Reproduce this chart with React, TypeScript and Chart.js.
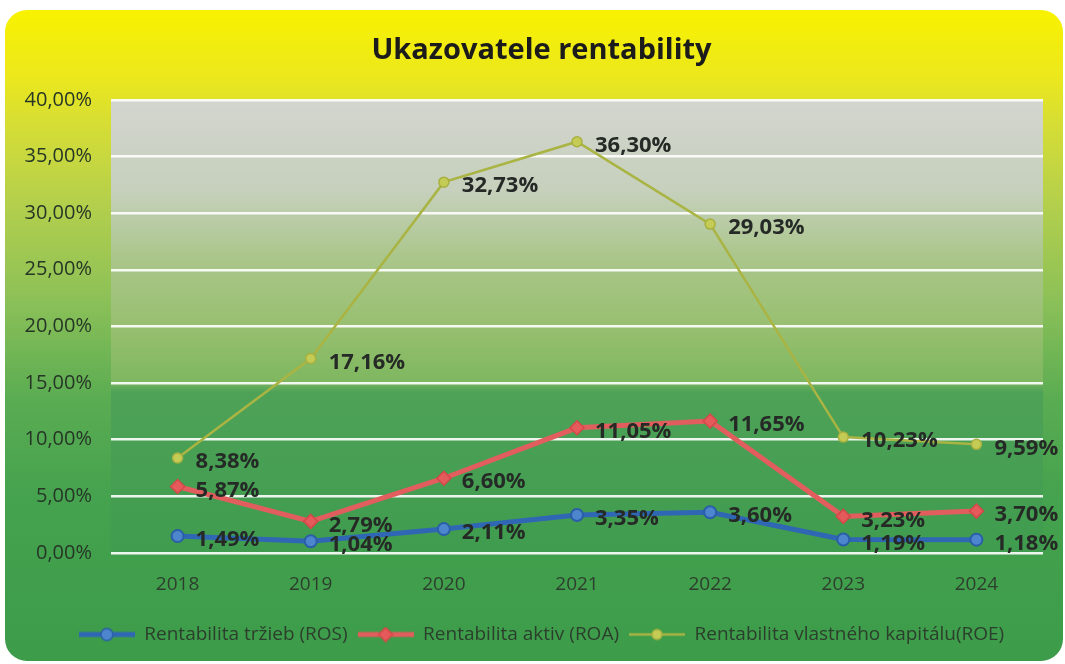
import React, { useEffect, useRef } from 'react';
import { Chart, registerables } from 'chart.js';

Chart.register(...registerables);

const chartTitle = 'Ukazovatele rentability';
const categories = ['2018', '2019', '2020', '2021', '2022', '2023', '2024'];
const rosValues = [1.49, 1.04, 2.11, 3.35, 3.6, 1.19, 1.18];
const roaValues = [5.87, 2.79, 6.6, 11.05, 11.65, 3.23, 3.7];
const roeValues = [8.38, 17.16, 32.73, 36.3, 29.03, 10.23, 9.59];
const seriesNames = [
  'Rentabilita tržieb (ROS)',
  'Rentabilita aktiv (ROA)',
  'Rentabilita vlastného kapitálu(ROE)',
];
const yMin = 0;
const yMax = 40;
const yStep = 5;

const fmt = (v: number) => v.toFixed(2).replace('.', ',') + '%';

function legendIcon(line: string, lw: number, fill: string, stroke: string, style: string, r: number) {
  const c = document.createElement('canvas');
  c.width = 56;
  c.height = 16;
  const x = c.getContext('2d')!;
  x.strokeStyle = line;
  x.lineWidth = lw;
  x.beginPath();
  x.moveTo(0, 8);
  x.lineTo(56, 8);
  x.stroke();
  x.fillStyle = fill;
  x.strokeStyle = stroke;
  x.lineWidth = 1.5;
  x.beginPath();
  if (style === 'rectRot') {
    x.moveTo(28, 8 - r);
    x.lineTo(28 + r, 8);
    x.lineTo(28, 8 + r);
    x.lineTo(28 - r, 8);
    x.closePath();
  } else {
    x.arc(28, 8, r, 0, Math.PI * 2);
  }
  x.fill();
  x.stroke();
  return c;
}

const bgPlugin = {
  id: 'bgPlugin',
  beforeDraw(chart: any) {
    const { ctx, width, height, chartArea } = chart;
    ctx.save();
    ctx.fillStyle = '#ffffff';
    ctx.fillRect(0, 0, width, height);
    const g = ctx.createLinearGradient(0, 10, 0, 660);
    g.addColorStop(0, '#f8f200');
    g.addColorStop(0.1, '#ece81c');
    g.addColorStop(0.18, '#d5dd36');
    g.addColorStop(0.3, '#b3cf4c');
    g.addColorStop(0.45, '#8bc058');
    g.addColorStop(0.6, '#5aac52');
    g.addColorStop(0.75, '#45a24e');
    g.addColorStop(1, '#3c9c4a');
    ctx.fillStyle = g;
    ctx.beginPath();
    ctx.roundRect(5, 10, 1058, 651, 22);
    ctx.fill();
    const { left, top, right, bottom } = chartArea;
    const pg = ctx.createLinearGradient(0, top, 0, bottom);
    pg.addColorStop(0, '#d3d5cf');
    pg.addColorStop(0.2, '#c6d0bc');
    pg.addColorStop(0.35, '#aac68a');
    pg.addColorStop(0.5, '#98c070');
    pg.addColorStop(0.62, '#7fb760');
    pg.addColorStop(0.645, '#4ea258');
    pg.addColorStop(1, '#3f9c4e');
    ctx.fillStyle = pg;
    ctx.fillRect(left, top, right - left, bottom - top);
    ctx.restore();
  },
};

// centre title and legend on the card rather than on the padded layout box
const centerShiftPlugin = {
  id: 'centerShiftPlugin',
  afterLayout(chart: any) {
    const shift = 13;
    [chart.titleBlock, chart.legend].forEach((b: any) => {
      if (b) {
        b.left += shift;
        b.right += shift;
      }
    });
  },
};

const labelPlugin = {
  id: 'labelPlugin',
  afterDatasetsDraw(chart: any) {
    const { ctx } = chart;
    ctx.save();
    ctx.font = 'bold 22px "Open Sans"';
    ctx.fillStyle = '#262a26';
    ctx.textAlign = 'left';
    ctx.textBaseline = 'middle';
    chart.data.datasets.forEach((ds: any, i: number) => {
      const meta = chart.getDatasetMeta(i);
      meta.data.forEach((pt: any, j: number) => {
        ctx.fillText(fmt(ds.data[j]), pt.x + 18, pt.y + 4);
      });
    });
    ctx.restore();
  },
};

export default function App() {
  const ref = useRef<HTMLCanvasElement>(null);
  useEffect(() => {
    const icons = [
      legendIcon('#2f67b5', 5, '#4d86cc', '#2a5ea8', 'circle', 6),
      legendIcon('#e25d5d', 5, '#e55a5a', '#d44848', 'rectRot', 7),
      legendIcon('#a9b443', 2.5, '#c5cc55', '#a8b040', 'circle', 5),
    ];
    const chart = new Chart(ref.current!, {
      type: 'line',
      data: {
        labels: categories,
        datasets: [
          {
            label: seriesNames[0],
            data: rosValues,
            borderColor: '#2f67b5',
            borderWidth: 5,
            pointStyle: 'circle',
            pointRadius: 6,
            pointBackgroundColor: '#4d86cc',
            pointBorderColor: '#2a5ea8',
            pointBorderWidth: 2,
            tension: 0,
          },
          {
            label: seriesNames[1],
            data: roaValues,
            borderColor: '#e25d5d',
            borderWidth: 5,
            pointStyle: 'rectRot',
            pointRadius: 7,
            pointBackgroundColor: '#e55a5a',
            pointBorderColor: '#d44848',
            pointBorderWidth: 1.5,
            tension: 0,
          },
          {
            label: seriesNames[2],
            data: roeValues,
            borderColor: '#a9b443',
            borderWidth: 2.5,
            pointStyle: 'circle',
            pointRadius: 5,
            pointBackgroundColor: '#c5cc55',
            pointBorderColor: '#a8b040',
            pointBorderWidth: 1.5,
            tension: 0,
          },
        ],
      },
      options: {
        responsive: false,
        animation: false,
        layout: { padding: { left: 14, right: 22, top: 0, bottom: 10 } },
        plugins: {
          title: {
            display: true,
            text: chartTitle,
            color: '#1b1b1b',
            font: { family: 'Open Sans', size: 29, weight: 'bold' },
            padding: { top: 33, bottom: 32 },
          },
          legend: {
            position: 'bottom',
            labels: {
              usePointStyle: true,
              pointStyleWidth: 56,
              color: '#2c3e2c',
              font: { family: 'Open Sans', size: 19 },
              padding: 10,
              generateLabels: (ch: any) =>
                ch.data.datasets.map((ds: any, i: number) => ({
                  text: ds.label,
                  pointStyle: icons[i],
                  fillStyle: ds.borderColor,
                  strokeStyle: ds.borderColor,
                  lineWidth: 0,
                  hidden: false,
                  datasetIndex: i,
                  fontColor: '#2c3e2c',
                })),
            },
          },
          tooltip: { enabled: false },
        },
        scales: {
          x: {
            offset: true,
            grid: { display: false, drawTicks: false },
            border: { display: false },
            ticks: { color: '#2e3e2e', font: { family: 'Open Sans', size: 19 }, padding: 20 },
            afterFit: (s: any) => {
              s.height = 62;
            },
          },
          y: {
            min: yMin,
            max: yMax,
            grid: { color: 'rgba(255,255,255,0.9)', lineWidth: 2.5, drawTicks: false },
            border: { display: false },
            ticks: {
              stepSize: yStep,
              color: '#263626',
              font: { family: 'Open Sans', size: 20 },
              padding: 19,
              callback: (v: any) => fmt(Number(v)),
            },
            afterFit: (s: any) => {
              s.width = 97;
            },
          },
        },
      },
      plugins: [bgPlugin, centerShiftPlugin, labelPlugin],
    });
    return () => chart.destroy();
  }, []);
  return (
    <div style={{ position: 'absolute', left: 0, top: 0, width: 1065, height: 664 }}>
      <canvas ref={ref} width={1065} height={664} />
    </div>
  );
}
